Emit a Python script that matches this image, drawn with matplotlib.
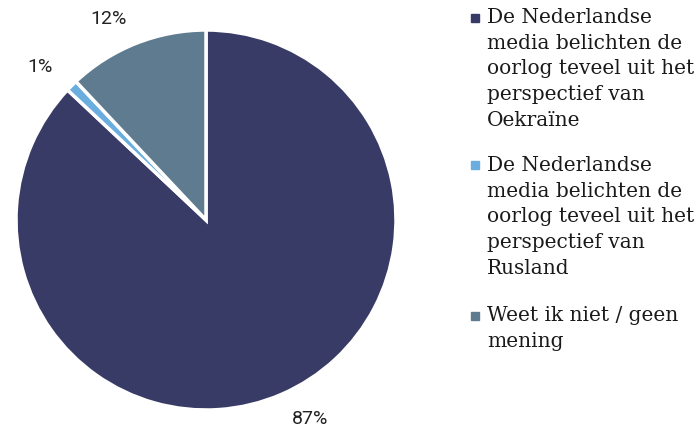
import matplotlib.pyplot as plt
from matplotlib.patches import Rectangle

# data
labels = [
    "De Nederlandse\nmedia belichten de\noorlog teveel uit het\nperspectief van\nOekraïne",
    "De Nederlandse\nmedia belichten de\noorlog teveel uit het\nperspectief van\nRusland",
    "Weet ik niet / geen\nmening",
]
values = [87, 1, 12]
pct_labels = ["87%", "1%", "12%"]
colors = ["#383b66", "#6aaee0", "#5f7b90"]

fig = plt.figure(figsize=(6.99, 4.28), dpi=100)
ax = fig.add_axes([16 / 699, 1 - 410 / 428, 380 / 699, 380 / 428])

wedges, texts = ax.pie(values, labels=pct_labels, colors=colors, startangle=90,
                       counterclock=False, labeldistance=1.14,
                       wedgeprops=dict(edgecolor="white", linewidth=2.5),
                       textprops=dict(fontsize=14, family="Roboto", color="#222222"))
ax.set_xlim(-1, 1)
ax.set_ylim(-1, 1)
ax.set_aspect("equal")
for t in texts:
    t.set_clip_on(False)

# legend on the right, drawn by hand so the square sits on the first line
y_tops = [8, 156, 306]
for lab, col, yt in zip(labels, colors, y_tops):
    fig.text(487 / 699, 1 - yt / 428, lab, ha="left", va="top", fontsize=14.5,
             family="DejaVu Serif", color="#1a1a1a", linespacing=1.45)
    fig.patches.append(Rectangle((471 / 699, 1 - (yt + 13.5) / 428), 8 / 699, 8 / 428,
                                 transform=fig.transFigure, color=col))

fig.savefig("out.png", dpi=100)
